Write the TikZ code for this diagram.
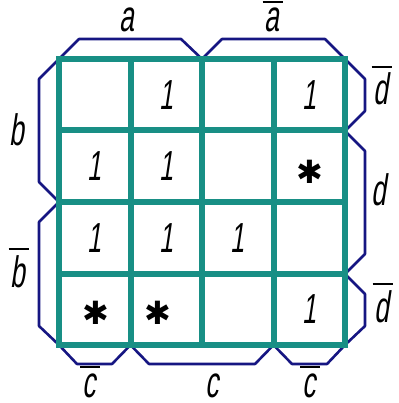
\documentclass[tikz,border=0pt]{standalone}
\usepackage{fontspec}
\newfontfamily\gost[FakeSlant=0.15,FakeStretch=0.6]{Liberation Sans}
\newfontfamily\symb{DejaVu Sans}
\definecolor{kgrid}{RGB}{24,143,133}
\definecolor{kline}{RGB}{22,22,130}
\newcommand{\nbar}[1]{\setbox0\hbox{#1}\rlap{\kern-2pt\raisebox{\dimexpr\ht0+5pt\relax}{\rule{\dimexpr\wd0+6pt\relax}{2pt}}}\box0}

\begin{document}
\begin{tikzpicture}[x=1pt,y=-1pt,
  gridline/.style={draw=kgrid, line width=6pt, line cap=rect},
  brace/.style={draw=kline, line width=2.6pt, line join=round},
  one/.style={font=\gost\fontsize{42}{42}\selectfont, inner sep=0pt},
  dc/.style={font=\symb\fontsize{32}{32}\selectfont\bfseries, inner sep=0pt},
  var/.style={font=\gost\fontsize{44}{44}\selectfont, inner sep=0pt, anchor=base}
]
\useasboundingbox (0,0) rectangle (398,403);

% Brackets
\draw[brace] (59,59) -- (79,39) -- (181,39) -- (202,59);    % a
\draw[brace] (202,59) -- (222,39) -- (325,39) -- (345,59);  % not a
\draw[brace] (59,59) -- (39,79) -- (39,182) -- (59,202);    % b
\draw[brace] (59,202) -- (39,222) -- (39,326) -- (59,345);  % not b
\draw[brace] (345,59) -- (365,79) -- (365,111) -- (345,131);   % not d
\draw[brace] (345,131) -- (365,151) -- (365,254) -- (345,274); % d
\draw[brace] (345,274) -- (365,294) -- (365,326) -- (345,345); % not d
\draw[brace] (59,345) -- (77,364) -- (112,364) -- (130.5,345);   % not c
\draw[brace] (130.5,345) -- (149,364) -- (255,364) -- (273.5,345); % c
\draw[brace] (273.5,345) -- (292,364) -- (327,364) -- (345,345);   % not c

% Grid
\foreach \k in {0,...,4} {
  \draw[gridline] (59+71.5*\k,59) -- (59+71.5*\k,345);
  \draw[gridline] (59,59+71.5*\k) -- (345,59+71.5*\k);
}

% Cells
\foreach \c/\r/\t [count=\i] in {2/1/1, 4/1/1, 1/2/1, 2/2/1, 1/3/1, 2/3/1, 3/3/1, 4/4/1}
  \node[one] (one\i) at (23.25+71.5*\c,23.25+71.5*\r) {\t};
\node[dc] (dc1) at (310,172) {✱};
\node[dc] (dc2) at (96,313) {✱};
\node[dc] (dc3) at (158,313) {✱};

% Variables
\node[var] (va)  at (127,32)  {a};
\node[var] (vna) at (272,32)  {\nbar{a}};
\node[var] (vb)  at (17,146)  {b};
\node[var] (vnb) at (18,287)  {\nbar{b}};
\node[var] (vnd1) at (381,105) {\nbar{d}};
\node[var] (vd)  at (379,205) {d};
\node[var] (vnd2) at (382,322) {\nbar{d}};
\node[var] (vnc1) at (89,397)  {\nbar{c}};
\node[var] (vc)  at (212,397)  {c};
\node[var] (vnc2) at (309,397) {\nbar{c}};
\end{tikzpicture}
\end{document}
